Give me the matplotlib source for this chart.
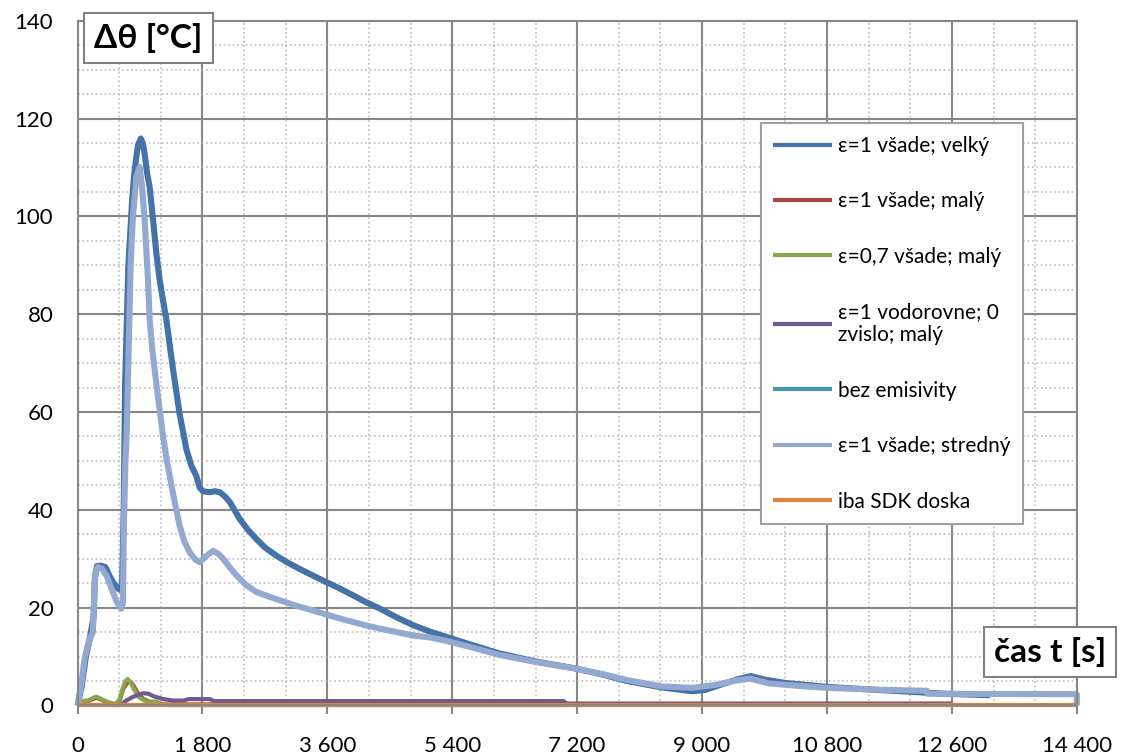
import numpy as np
import matplotlib
matplotlib.use("Agg")
import matplotlib.pyplot as plt

plt.rcParams['font.family'] = ['Lato', 'DejaVu Sans']

# ---- data (time [s], delta theta [C]) ----
t_velky = [0, 60, 120, 180, 230, 250, 280, 330, 400, 460, 520, 590, 640, 665, 684, 732,
           790, 822, 870, 911, 940, 967, 1000, 1039, 1090, 1135, 1183, 1230, 1280, 1330,
           1376, 1420, 1472, 1520, 1568, 1640, 1712, 1760, 1808, 1905, 1980, 2049, 2120,
           2193, 2260, 2338, 2450, 2578, 2700, 2867, 3030, 3203, 3400, 3588, 3780, 3973,
           4160, 4358, 4600, 4839, 5080, 5320, 5700, 6090, 6600, 7200, 7600, 7918, 8415,
           8859, 9050, 9300, 9550, 9700, 9900, 10200, 10800, 11500, 12000, 12500, 13150]
v_velky = [0, 4, 10, 14, 18, 26, 28.5, 28.6, 28.3, 26.5, 25, 23.8, 23.5, 40, 65, 90,
           104, 109.4, 114.5, 115.9, 115, 112.8, 109, 106, 99, 92.5, 87, 83, 78.9, 73.5,
           68.7, 64.5, 59.5, 56, 52.4, 49, 46.9, 44.5, 43.8, 43.6, 43.8, 43.6, 42.8,
           41.6, 40, 38.1, 36, 34, 32.3, 30.6, 29.2, 27.9, 26.5, 25.2, 23.9, 22.5,
           21.1, 19.8, 18, 16.4, 15.1, 14.0, 12.3, 10.6, 9.0, 7.5, 6.2, 5.0, 3.7,
           2.9, 3.2, 4.4, 5.5, 6.0, 5.3, 4.6, 3.8, 3.2, 2.8, 2.4, 2.1]

t_stredny = [0, 50, 101, 160, 221, 240, 255, 293, 350, 420, 500, 570, 630, 655, 665, 690,
             709, 766, 798, 847, 895, 930, 967, 1015, 1039, 1075, 1111, 1150, 1183, 1231,
             1300, 1380, 1472, 1540, 1616, 1700, 1760, 1850, 1953, 2030, 2097, 2190, 2290,
             2430, 2578, 2750, 2915, 3150, 3396, 3630, 3877, 4120, 4358, 4600, 4839, 5080,
             5320, 5700, 6090, 6600, 7200, 7600, 7918, 8415, 8859, 9192, 9450, 9690, 9964,
             10400, 10800, 11630, 12240, 12250, 14400, 14400]
v_stredny = [0, 4, 9.6, 13, 15, 22, 27, 28.3, 28.0, 26.5, 23.5, 21, 19.8, 21, 35, 50,
             56, 90.5, 100, 108, 110.1, 106, 99.2, 87, 78.9, 73, 68.7, 64, 60.5, 55.1,
             49, 43, 36.7, 33.5, 31.3, 29.8, 29.3, 30.5, 31.6, 31, 30, 28.3, 26.6,
             24.6, 23.2, 22.3, 21.5, 20.4, 19.4, 18.4, 17.4, 16.5, 15.7, 15.0, 14.3, 13.9,
             13.2, 11.8, 10.3, 8.9, 7.5, 6.3, 5.2, 3.9, 3.6, 4.2, 5.0, 5.5, 4.5,
             4.0, 3.6, 3.2, 3.0, 2.4, 2.3, 0]

t_maly = [0, 150, 276, 420, 540, 612, 660, 735, 780, 830, 880, 950, 1050, 1150, 1250, 7000]
v_maly = [0.8, 0.9, 1.6, 0.7, 0.2, 1.2, 3.5, 5.0, 4.6, 3.5, 2.3, 1.3, 0.7, 0.6, 0.2, 0.2]

t_07 = [0, 150, 230, 276, 330, 420, 480, 540, 580, 612, 650, 690, 723, 760, 804, 850,
        900, 997, 1141, 1200, 1300, 7000]
v_07 = [0.9, 1.0, 1.6, 1.8, 1.4, 0.8, 0.5, 0.3, 0.6, 1.5, 3.5, 5.0, 5.4, 4.8, 3.5, 2.5,
        1.5, 0.8, 0.8, 0.3, 0.1, 0.1]

t_vodor = [590, 637, 700, 804, 948, 1020, 1092, 1237, 1380, 1525, 1600, 1909, 1960,
           7000, 7050, 12600]
v_vodor = [0, 0.3, 1.0, 1.8, 2.5, 2.4, 1.9, 1.3, 1.0, 1.0, 1.3, 1.3, 0.9,
           0.9, 0.4, 0.4]

t_bez = [0, 12600]
v_bez = [0.1, 0.1]

t_sdk = [0, 14400]
v_sdk = [0, 0]

labels = ["ε=1 všade; velký", "ε=1 všade; malý", "ε=0,7 všade; malý",
          "ε=1 vodorovne; 0\nzvislo; malý", "bez emisivity",
          "ε=1 všade; stredný", "iba SDK doska"]
colors = ["#4572A7", "#AA4643", "#89A54E", "#71588F", "#4198AF", "#93A9CF", "#DB843D"]

x_ticks = [0, 1800, 3600, 5400, 7200, 9000, 10800, 12600, 14400]
x_tick_labels = ["0", "1 800", "3 600", "5 400", "7 200", "9 000", "10 800", "12 600", "14 400"]
y_ticks = [0, 20, 40, 60, 80, 100, 120, 140]

# ---- plot ----
fig = plt.figure(figsize=(11.24, 7.55), dpi=100)
ax = fig.add_axes([0.069, 0.0656, 0.889, 0.907])

series = [(t_velky, v_velky), (t_maly, v_maly), (t_07, v_07), (t_vodor, v_vodor),
          (t_bez, v_bez), (t_stredny, v_stredny), (t_sdk, v_sdk)]
widths = [4.4, 3, 3, 3, 3, 4.4, 3]
for (t, v), lab, c, w in zip(series, labels, colors, widths):
    ax.plot(t, v, color=c, lw=w, label=lab, clip_on=False, solid_capstyle='butt')

ax.set_xlim(0, 14400)
ax.set_ylim(0, 140)
ax.set_xticks(x_ticks)
ax.set_xticklabels(x_tick_labels)
ax.set_yticks(y_ticks)
ax.set_xticks(np.arange(0, 14401, 600), minor=True)
ax.set_yticks(np.arange(0, 141, 5), minor=True)

ax.grid(which='major', color='#878787', lw=1.5, ls='-')
ax.grid(which='minor', color='#BDBDBD', lw=1.2, ls=':')
ax.set_axisbelow(True)
for s in ax.spines.values():
    s.set_color('#878787')
    s.set_linewidth(1.5)

ax.tick_params(axis='x', which='major', direction='out', length=6.3, width=1.5,
               color='#878787', labelsize=16, pad=16)
ax.tick_params(axis='y', which='major', length=0, labelsize=16, pad=17.5)
ax.tick_params(which='minor', length=0)

leg = ax.legend(loc='upper right', bbox_to_anchor=(0.946, 0.850), borderaxespad=0,
                fontsize=15, frameon=True, fancybox=False, framealpha=1,
                handlelength=2.8, handletextpad=0.3, labelspacing=1.7,
                borderpad=0.6)
leg.get_frame().set_edgecolor('#A0A0A0')
leg.get_frame().set_linewidth(1.5)
for h in leg.get_lines():
    h.set_linewidth(3)

box = dict(boxstyle='square,pad=0.3', fc='white', ec='#808080', lw=1.5)
ax.text(0.071, 0.975, "Δθ [°C]", transform=ax.transAxes, fontsize=24, fontweight='bold',
        ha='center', va='center', bbox=box, zorder=10, clip_on=False)
ax.text(0.973, 0.078, "čas t [s]", transform=ax.transAxes, fontsize=24, fontweight='bold',
        ha='center', va='center', bbox=box, zorder=10, clip_on=False)

fig.savefig("out.png", dpi=100)
